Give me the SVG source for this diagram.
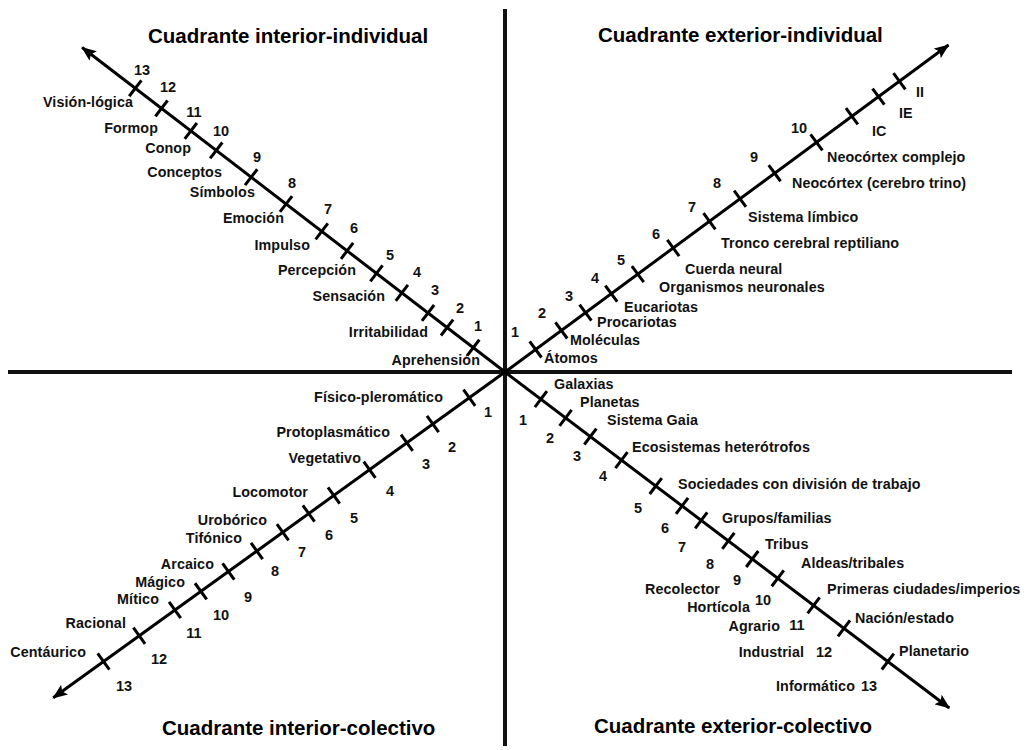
<svg xmlns="http://www.w3.org/2000/svg" width="1027" height="750" viewBox="0 0 1027 750">
  <style>
    .axis { stroke: #111; stroke-width: 4; fill: none; }
    .diag { stroke: #000; stroke-width: 3; fill: none; }
    .tick line { stroke: #000; stroke-width: 3; }
    .title { font-family: "Liberation Sans", Arial, sans-serif; font-weight: bold; font-size: 20.5px; fill: #000; }
    .lbl { font-family: "Liberation Sans", Arial, sans-serif; font-weight: bold; font-size: 14.3px; letter-spacing: 0.1px; fill: #111; }
    .num { font-family: "Liberation Sans", Arial, sans-serif; font-weight: bold; font-size: 14.5px; fill: #111; text-anchor: middle; }
    .end { text-anchor: end; }
  </style>
  <defs>
    <marker id="arrow" markerUnits="userSpaceOnUse" markerWidth="16" markerHeight="12" refX="14" refY="6" orient="auto">
      <path d="M0,0 L15,6 L0,12 L3,6 Z" fill="#000"/>
    </marker>
  </defs>
  <rect width="1027" height="750" fill="#fff"/>

  <!-- main cross -->
  <g id="connectors">
    <line class="axis" x1="8" y1="372" x2="1012" y2="372"/>
    <line class="axis" x1="505" y1="9" x2="505" y2="746"/>

    <!-- upper-left diagonal -->
    <g transform="translate(505 372) rotate(217.5)">
      <line class="diag" x1="0" y1="0" x2="533" y2="0" marker-end="url(#arrow)"/>
      <g class="tick">
        <line x1="40" y1="-10" x2="40" y2="10"/>
        <line x1="73" y1="-10" x2="73" y2="10"/>
        <line x1="97" y1="-10" x2="97" y2="10"/>
        <line x1="130" y1="-10" x2="130" y2="10"/>
        <line x1="162" y1="-10" x2="162" y2="10"/>
        <line x1="199" y1="-10" x2="199" y2="10"/>
        <line x1="231" y1="-10" x2="231" y2="10"/>
        <line x1="276" y1="-10" x2="276" y2="10"/>
        <line x1="320" y1="-10" x2="320" y2="10"/>
        <line x1="364" y1="-10" x2="364" y2="10"/>
        <line x1="396" y1="-10" x2="396" y2="10"/>
        <line x1="433" y1="-10" x2="433" y2="10"/>
        <line x1="466" y1="-10" x2="466" y2="10"/>
      </g>
    </g>

    <!-- upper-right diagonal -->
    <g transform="translate(505 372) rotate(-36.4)">
      <line class="diag" x1="0" y1="0" x2="551" y2="0" marker-end="url(#arrow)"/>
      <g class="tick">
        <line x1="38" y1="-10" x2="38" y2="10"/>
        <line x1="70" y1="-10" x2="70" y2="10"/>
        <line x1="100" y1="-10" x2="100" y2="10"/>
        <line x1="132" y1="-10" x2="132" y2="10"/>
        <line x1="165" y1="-10" x2="165" y2="10"/>
        <line x1="209" y1="-10" x2="209" y2="10"/>
        <line x1="254" y1="-10" x2="254" y2="10"/>
        <line x1="292" y1="-10" x2="292" y2="10"/>
        <line x1="335" y1="-10" x2="335" y2="10"/>
        <line x1="387" y1="-10" x2="387" y2="10"/>
        <line x1="431" y1="-10" x2="431" y2="10"/>
        <line x1="464" y1="-10" x2="464" y2="10"/>
        <line x1="490" y1="-10" x2="490" y2="10"/>
      </g>
    </g>

    <!-- lower-left diagonal -->
    <g transform="translate(505 372) rotate(144.2)">
      <line class="diag" x1="0" y1="0" x2="557" y2="0" marker-end="url(#arrow)"/>
      <g class="tick">
        <line x1="44" y1="-10" x2="44" y2="10"/>
        <line x1="89" y1="-10" x2="89" y2="10"/>
        <line x1="121" y1="-10" x2="121" y2="10"/>
        <line x1="167" y1="-10" x2="167" y2="10"/>
        <line x1="211" y1="-10" x2="211" y2="10"/>
        <line x1="242" y1="-10" x2="242" y2="10"/>
        <line x1="274" y1="-10" x2="274" y2="10"/>
        <line x1="306" y1="-10" x2="306" y2="10"/>
        <line x1="341" y1="-10" x2="341" y2="10"/>
        <line x1="375" y1="-10" x2="375" y2="10"/>
        <line x1="407" y1="-10" x2="407" y2="10"/>
        <line x1="451" y1="-10" x2="451" y2="10"/>
        <line x1="495" y1="-10" x2="495" y2="10"/>
      </g>
    </g>

    <!-- lower-right diagonal -->
    <g transform="translate(505 372) rotate(37.1)">
      <line class="diag" x1="0" y1="0" x2="557" y2="0" marker-end="url(#arrow)"/>
      <g class="tick">
        <line x1="45" y1="-10" x2="45" y2="10"/>
        <line x1="76" y1="-10" x2="76" y2="10"/>
        <line x1="107" y1="-10" x2="107" y2="10"/>
        <line x1="146" y1="-10" x2="146" y2="10"/>
        <line x1="189" y1="-10" x2="189" y2="10"/>
        <line x1="222" y1="-10" x2="222" y2="10"/>
        <line x1="246" y1="-10" x2="246" y2="10"/>
        <line x1="280" y1="-10" x2="280" y2="10"/>
        <line x1="310" y1="-10" x2="310" y2="10"/>
        <line x1="342" y1="-10" x2="342" y2="10"/>
        <line x1="387" y1="-10" x2="387" y2="10"/>
        <line x1="425" y1="-10" x2="425" y2="10"/>
        <line x1="480" y1="-10" x2="480" y2="10"/>
      </g>
    </g>
  </g>

  <!-- interior-individual -->
  <g id="quadrant-ul">
    <text class="title" x="148" y="43">Cuadrante interior-individual</text>
    <text class="lbl end" x="133" y="107">Visión-lógica</text>
    <text class="lbl end" x="158" y="133">Formop</text>
    <text class="lbl end" x="191" y="153">Conop</text>
    <text class="lbl end" x="222" y="177">Conceptos</text>
    <text class="lbl end" x="255" y="197">Símbolos</text>
    <text class="lbl end" x="284" y="223">Emoción</text>
    <text class="lbl end" x="310" y="250">Impulso</text>
    <text class="lbl end" x="356" y="275">Percepción</text>
    <text class="lbl end" x="385" y="301">Sensación</text>
    <text class="lbl end" x="428" y="337">Irritabilidad</text>
    <text class="lbl end" x="480" y="365">Aprehensión</text>
    <text class="num" x="142" y="75">13</text>
    <text class="num" x="168" y="92">12</text>
    <text class="num" x="194" y="117">11</text>
    <text class="num" x="221" y="136">10</text>
    <text class="num" x="257" y="162">9</text>
    <text class="num" x="292" y="188">8</text>
    <text class="num" x="328" y="214">7</text>
    <text class="num" x="354" y="233">6</text>
    <text class="num" x="390" y="260">5</text>
    <text class="num" x="417" y="277">4</text>
    <text class="num" x="435" y="295">3</text>
    <text class="num" x="460" y="313">2</text>
    <text class="num" x="478" y="331">1</text>
  </g>

  <!-- exterior-individual -->
  <g id="quadrant-ur">
    <text class="title" x="598" y="42">Cuadrante exterior-individual</text>
    <text class="lbl" x="916" y="97">II</text>
    <text class="lbl" x="899" y="118">IE</text>
    <text class="lbl" x="872" y="136">IC</text>
    <text class="lbl" x="827" y="162">Neocórtex complejo</text>
    <text class="lbl" x="792" y="188">Neocórtex (cerebro trino)</text>
    <text class="lbl" x="748" y="222">Sistema límbico</text>
    <text class="lbl" x="721" y="248">Tronco cerebral reptiliano</text>
    <text class="lbl" x="685" y="274">Cuerda neural</text>
    <text class="lbl" x="659" y="292">Organismos neuronales</text>
    <text class="lbl" x="624" y="312">Eucariotas</text>
    <text class="lbl" x="597" y="327">Procariotas</text>
    <text class="lbl" x="570" y="345">Moléculas</text>
    <text class="lbl" x="544" y="363">Átomos</text>
    <text class="num" x="799" y="133">10</text>
    <text class="num" x="754" y="162">9</text>
    <text class="num" x="717" y="188">8</text>
    <text class="num" x="692" y="212">7</text>
    <text class="num" x="656" y="239">6</text>
    <text class="num" x="621" y="265">5</text>
    <text class="num" x="595" y="283">4</text>
    <text class="num" x="569" y="301">3</text>
    <text class="num" x="542" y="318">2</text>
    <text class="num" x="515" y="337">1</text>
  </g>

  <!-- interior-colectivo -->
  <g id="quadrant-ll">
    <text class="title" x="162" y="735">Cuadrante interior-colectivo</text>
    <text class="lbl end" x="443" y="402">Físico-pleromático</text>
    <text class="lbl end" x="390" y="437">Protoplasmático</text>
    <text class="lbl end" x="361" y="463">Vegetativo</text>
    <text class="lbl end" x="308" y="497">Locomotor</text>
    <text class="lbl end" x="267" y="525">Urobórico</text>
    <text class="lbl end" x="242" y="543">Tifónico</text>
    <text class="lbl end" x="214" y="569">Arcaico</text>
    <text class="lbl end" x="185" y="587">Mágico</text>
    <text class="lbl end" x="159" y="604">Mítico</text>
    <text class="lbl end" x="126" y="628">Racional</text>
    <text class="lbl end" x="86" y="657">Centáurico</text>
    <text class="num" x="488" y="417">1</text>
    <text class="num" x="452" y="452">2</text>
    <text class="num" x="426" y="469">3</text>
    <text class="num" x="390" y="496">4</text>
    <text class="num" x="354" y="523">5</text>
    <text class="num" x="329" y="540">6</text>
    <text class="num" x="302" y="557">7</text>
    <text class="num" x="275" y="576">8</text>
    <text class="num" x="248" y="602">9</text>
    <text class="num" x="221" y="620">10</text>
    <text class="num" x="194" y="638">11</text>
    <text class="num" x="159" y="664">12</text>
    <text class="num" x="124" y="691">13</text>
  </g>

  <!-- exterior-colectivo -->
  <g id="quadrant-lr">
    <text class="title" x="594" y="733">Cuadrante exterior-colectivo</text>
    <text class="lbl" x="554" y="389">Galaxias</text>
    <text class="lbl" x="580" y="407">Planetas</text>
    <text class="lbl" x="607" y="425">Sistema Gaia</text>
    <text class="lbl" x="632" y="452">Ecosistemas heterótrofos</text>
    <text class="lbl" x="678" y="489">Sociedades con división de trabajo</text>
    <text class="lbl" x="722" y="523">Grupos/familias</text>
    <text class="lbl" x="765" y="549">Tribus</text>
    <text class="lbl" x="801" y="568">Aldeas/tribales</text>
    <text class="lbl" x="827" y="594">Primeras ciudades/imperios</text>
    <text class="lbl" x="855" y="623">Nación/estado</text>
    <text class="lbl" x="899" y="656">Planetario</text>
    <text class="lbl end" x="720" y="594">Recolector</text>
    <text class="lbl end" x="750" y="612">Hortícola</text>
    <text class="lbl end" x="780" y="631">Agrario</text>
    <text class="lbl end" x="804" y="657">Industrial</text>
    <text class="lbl end" x="855" y="691">Informático</text>
    <text class="num" x="523" y="425">1</text>
    <text class="num" x="550" y="443">2</text>
    <text class="num" x="577" y="461">3</text>
    <text class="num" x="603" y="481">4</text>
    <text class="num" x="638" y="513">5</text>
    <text class="num" x="665" y="533">6</text>
    <text class="num" x="682" y="552">7</text>
    <text class="num" x="710" y="569">8</text>
    <text class="num" x="737" y="585">9</text>
    <text class="num" x="763" y="605">10</text>
    <text class="num" x="797" y="630">11</text>
    <text class="num" x="824" y="657">12</text>
    <text class="num" x="869" y="691">13</text>
  </g>
</svg>
